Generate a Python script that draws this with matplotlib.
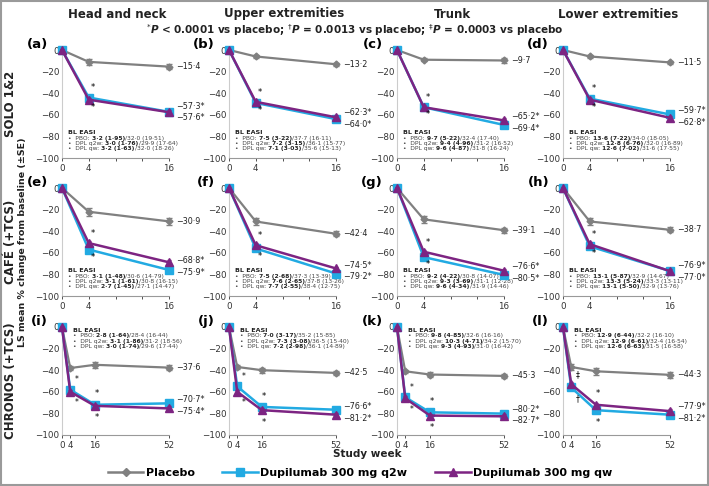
import matplotlib
matplotlib.use("Agg")
import matplotlib.pyplot as plt
from matplotlib.lines import Line2D
from matplotlib.patches import Rectangle

# kolory serii
C_PBO = "#808080"
C_Q2W = "#22aae2"
C_QW = "#7d2482"

regions = ["Head and neck", "Upper extremities", "Trunk", "Lower extremities"]
studies = ["SOLO 1&2", "CAFÉ (+TCS)", "CHRONOS (+TCS)"]
letters = ["abcd", "efgh", "ijkl"]

weeks_16 = [0, 4, 16]
weeks_52 = [0, 4, 16, 52]

# SOLO 1&2
pbo_solo = [[0, -11, -15.4], [0, -6, -13.2], [0, -9, -9.7], [0, -6, -11.5]]
q2w_solo = [[0, -44, -57.3], [0, -49, -64.0], [0, -53, -69.4], [0, -45, -59.7]]
qw_solo = [[0, -46, -57.6], [0, -48, -62.3], [0, -53, -65.2], [0, -46, -62.8]]
pbo_se_solo = [[0, 3.0, 2.0], [0, 1.5, 1.5], [0, 1.5, 2.0], [0, 1.5, 1.5]]

# CAFE
pbo_cafe = [[0, -22, -30.9], [0, -31, -42.4], [0, -29, -39.1], [0, -31, -38.7]]
q2w_cafe = [[0, -57, -75.9], [0, -56, -79.2], [0, -64, -80.5], [0, -54, -76.9]]
qw_cafe = [[0, -51, -68.8], [0, -53, -74.5], [0, -59, -76.6], [0, -52, -77.0]]
pbo_se_cafe = [[0, 3.5, 3.0], [0, 3.0, 2.5], [0, 3.0, 2.5], [0, 3.0, 2.5]]

# CHRONOS
pbo_chr = [[0, -38, -35, -37.6], [0, -37, -40, -42.5], [0, -41, -44, -45.3], [0, -37, -41, -44.3]]
q2w_chr = [[0, -58, -72, -70.7], [0, -55, -74, -76.6], [0, -65, -79, -80.2], [0, -56, -77, -81.2]]
qw_chr = [[0, -60, -73, -75.4], [0, -60, -77, -81.2], [0, -66, -82, -82.7], [0, -53, -72, -77.9]]
pbo_se_chr = [[0, 2.0, 3.0, 2.0], [0, 2.0, 2.5, 2.0], [0, 1.5, 2.0, 2.0], [0, 2.5, 3.0, 3.0]]

# BL EASI: (pogrubione, reszta) dla PBO, q2w, qw
bl_solo = [
    [("3·2 (1·95)", "32·0 (19·51)"), ("3·0 (1·76)", "29·9 (17·64)"), ("3·2 (1·63)", "32·0 (18·26)")],
    [("7·5 (3·22)", "37·7 (16·11)"), ("7·2 (3·15)", "36·1 (15·77)"), ("7·1 (3·03)", "35·6 (15·13)")],
    [("9·7 (5·22)", "32·4 (17·40)"), ("9·4 (4·96)", "31·2 (16·52)"), ("9·6 (4·87)", "31·8 (16·24)")],
    [("13·6 (7·22)", "34·0 (18·05)"), ("12·8 (6·76)", "32·0 (16·89)"), ("12·6 (7·02)", "31·6 (17·55)")],
]
bl_cafe = [
    [("3·1 (1·48)", "30·6 (14·79)"), ("3·1 (1·61)", "30·8 (16·15)"), ("2·7 (1·45)", "27·1 (14·47)")],
    [("7·5 (2·68)", "37·3 (13·39)"), ("7·6 (2·65)", "37·8 (13·26)"), ("7·7 (2·55)", "38·4 (12·75)")],
    [("9·2 (4·22)", "30·8 (14·07)"), ("9·3 (3·69)", "31·1 (12·28)"), ("9·6 (4·34)", "31·9 (14·46)")],
    [("13·1 (5·87)", "32·9 (14·67)"), ("13·3 (5·24)", "33·3 (13·11)"), ("13·1 (5·50)", "32·9 (13·76)")],
]
bl_chr = [
    [("2·8 (1·64)", "28·4 (16·44)"), ("3·1 (1·86)", "31·2 (18·56)"), ("3·0 (1·74)", "29·6 (17·44)")],
    [("7·0 (3·17)", "35·2 (15·85)"), ("7·3 (3·08)", "36·5 (15·40)"), ("7·2 (2·98)", "36·1 (14·89)")],
    [("9·8 (4·85)", "32·6 (16·16)"), ("10·3 (4·71)", "34·2 (15·70)"), ("9·3 (4·93)", "31·0 (16·42)")],
    [("12·9 (6·44)", "32·2 (16·10)"), ("12·9 (6·61)", "32·4 (16·54)"), ("12·6 (6·63)", "31·5 (16·58)")],
]
arm_names = ["PBO: ", "DPL q2w: ", "DPL qw: "]

# znaczniki istotnosci przy tyg. 4 (gora, dol)
sig_chr_w4 = [("*", "*"), ("*", "*"), ("*", "*"), ("‡", "†")]

data = [
    (weeks_16, pbo_solo, q2w_solo, qw_solo, pbo_se_solo, bl_solo),
    (weeks_16, pbo_cafe, q2w_cafe, qw_cafe, pbo_se_cafe, bl_cafe),
    (weeks_52, pbo_chr, q2w_chr, qw_chr, pbo_se_chr, bl_chr),
]


def fmt(v, star=False):
    s = f"{v:.1f}".replace(".", "·").replace("-", "−")
    return s + ("*" if star else "")


def bl_block(ax, bl, x0, y0, dy):
    ax.text(x0, y0, "BL EASI", transform=ax.transAxes, fontsize=4.6,
            fontweight="bold", color="#222222", va="center")
    for k in range(3):
        y = y0 - dy * (k + 1)
        t = ax.text(x0, y, "•  " + arm_names[k], transform=ax.transAxes,
                    fontsize=4.3, color="#444444", va="center")
        t = ax.annotate(bl[k][0], xy=(1, 0), xycoords=t, fontsize=4.3,
                        fontweight="bold", color="#222222", va="bottom")
        ax.annotate("/" + bl[k][1], xy=(1, 0), xycoords=t, fontsize=4.3,
                    color="#444444", va="bottom")


fig = plt.figure(figsize=(7.09, 4.86), dpi=100)
W, H = 709.0, 486.0
col_x = [62, 229, 397, 563]
row_top = [50, 188, 327]
ax_w, ax_h = 107, 108

for r in range(3):
    weeks, pbo, q2w, qw, pse, bl = data[r]
    xmax = weeks[-1]
    for c in range(4):
        ax = fig.add_axes([col_x[c] / W, 1 - (row_top[r] + ax_h) / H, ax_w / W, ax_h / H])
        ax.errorbar(weeks, pbo[c], yerr=pse[c], color=C_PBO, lw=1.6, marker="D",
                    ms=3.5, capsize=2, elinewidth=0.8, clip_on=False, zorder=3)
        ax.errorbar(weeks, q2w[c], yerr=[0] + [1.8] * (len(weeks) - 1), color=C_Q2W,
                    lw=1.8, marker="s", ms=5.5, capsize=1.5, elinewidth=0.7,
                    clip_on=False, zorder=4)
        ax.errorbar(weeks, qw[c], yerr=[0] + [1.8] * (len(weeks) - 1), color=C_QW,
                    lw=1.8, marker="^", ms=5.5, capsize=1.5, elinewidth=0.7,
                    clip_on=False, zorder=5)
        ax.set_xlim(0, xmax)
        ax.set_ylim(-100, 0)
        ax.set_yticks([0, -20, -40, -60, -80, -100])
        ax.set_yticklabels(["0", "−20", "−40", "−60", "−80", "−100"])
        if xmax == 16:
            ax.set_xticks([0, 4, 8, 12, 16])
            ax.set_xticklabels(["0", "4", "", "", "16"])
        else:
            ax.set_xticks([0, 4, 16, 52])
        ax.tick_params(labelsize=6.3, length=2, width=0.6, colors="#333333", pad=2)
        ax.tick_params(axis="y", length=0)
        for s in ["top", "right"]:
            ax.spines[s].set_visible(False)
        ax.spines["left"].set_color("#cccccc")
        ax.spines["bottom"].set_color("#999999")
        ax.spines["left"].set_linewidth(0.8)
        ax.spines["bottom"].set_linewidth(0.8)

        # etykiety koncowe
        xl = xmax * 1.07
        ax.text(xl, pbo[c][-1], fmt(pbo[c][-1]), fontsize=5.8, va="center",
                ha="left", color="#222222", clip_on=False)
        a, b = q2w[c][-1], qw[c][-1]
        mid = (a + b) / 2
        hi, lo = (a, b) if a >= b else (b, a)
        ax.text(xl, mid + 5.5, fmt(hi, True), fontsize=5.8, va="center",
                color="#222222", clip_on=False)
        ax.text(xl, mid - 5.5, fmt(lo, True), fontsize=5.8, va="center",
                color="#222222", clip_on=False)

        # gwiazdki
        top4 = max(q2w[c][1], qw[c][1])
        bot4 = min(q2w[c][1], qw[c][1])
        if r < 2:
            ax.text(4.6, top4 + 9, "*", fontsize=6, ha="center", va="center", zorder=6)
            ax.text(4.6, bot4 - 7, "*", fontsize=6, ha="center", va="center", zorder=6)
            bl_block(ax, bl[c], 0.06, 0.235, 0.05)
        else:
            up, dn = sig_chr_w4[c]
            ax.text(7, top4 + 9, up, fontsize=5.5, ha="center", va="center", zorder=6)
            ax.text(7, bot4 - 10, dn, fontsize=5.5, ha="center", va="center", zorder=6)
            top16 = max(q2w[c][2], qw[c][2])
            bot16 = min(q2w[c][2], qw[c][2])
            ax.text(17, top16 + 10, "*", fontsize=6, ha="center", va="center", zorder=6)
            ax.text(17, bot16 - 11, "*", fontsize=6, ha="center", va="center", zorder=6)
            bl_block(ax, bl[c], 0.1, 0.97, 0.05)

        ax.text(-0.13, 1.05, "(" + letters[r][c] + ")", transform=ax.transAxes,
                fontsize=9.5, fontweight="bold", ha="right", va="center")

# tytuly kolumn
for c in range(4):
    fig.text((col_x[c] + 55) / W, 1 - 14 / H, regions[c], fontsize=8.5,
             fontweight="bold", ha="center", va="center", color="#222222")
fig.text(355 / W, 1 - 30 / H,
         r"$^{*}\mathbfit{P}$ < 0.0001 vs placebo; $^{\dagger}\mathbfit{P}$ = 0.0013 vs placebo; "
         r"$^{\ddagger}\mathbfit{P}$ = 0.0003 vs placebo",
         fontsize=7.5, fontweight="bold", ha="center", va="center", color="#222222")

# opisy wierszy
row_mid = [row_top[r] + ax_h / 2 for r in range(3)]
for r in range(3):
    fig.text(11 / W, 1 - row_mid[r] / H, studies[r], rotation=90, fontsize=8.5,
             fontweight="bold", ha="center", va="center", color="#222222")
fig.text(23 / W, 1 - row_mid[1] / H, "LS mean % change from baseline (±SE)",
         rotation=90, fontsize=6.8, fontweight="bold", ha="center", va="center",
         color="#222222")
fig.text(367 / W, 1 - 454 / H, "Study week", fontsize=7.5, fontweight="bold",
         ha="center", va="center", color="#222222")

handles = [
    Line2D([], [], color=C_PBO, lw=1.8, marker="D", ms=4),
    Line2D([], [], color=C_Q2W, lw=1.8, marker="s", ms=5.5),
    Line2D([], [], color=C_QW, lw=1.8, marker="^", ms=5.5),
]
fig.legend(handles, ["Placebo", "Dupilumab 300 mg q2w", "Dupilumab 300 mg qw"],
           loc="center", bbox_to_anchor=(360 / W, 1 - 473 / H), ncol=3,
           frameon=False, handlelength=3.2, columnspacing=2.5, handletextpad=0.2,
           borderpad=0.0, prop={"size": 8, "weight": "bold"})

fig.patches.append(Rectangle((0.002, 0.003), 0.996, 0.994, transform=fig.transFigure,
                             fill=False, edgecolor="#9a9a9a", lw=1.5))

fig.savefig("out.png", dpi=100)
